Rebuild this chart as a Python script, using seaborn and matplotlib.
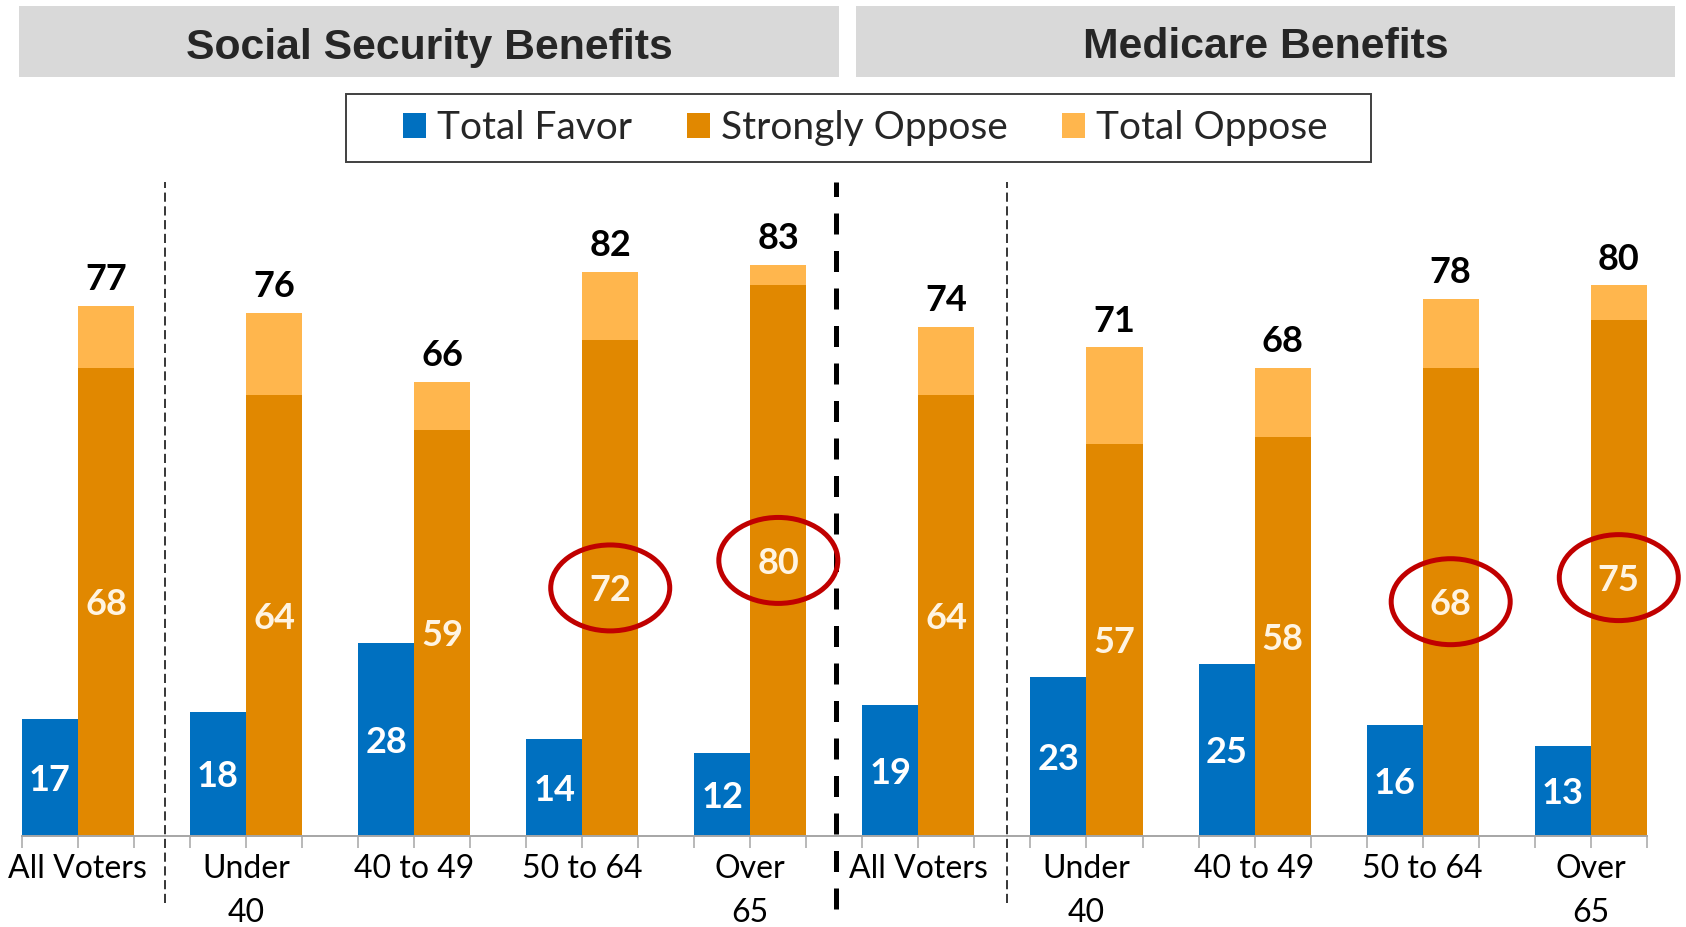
import matplotlib
matplotlib.use("Agg")
import matplotlib.pyplot as plt
from matplotlib.patches import Rectangle, Ellipse, Patch
import pandas as pd
import seaborn as sns

# ---- data -------------------------------------------------------------
panels = ["Social Security Benefits", "Medicare Benefits"]
age_groups = ["All Voters", "Under\n40", "40 to 49", "50 to 64", "Over\n65"]

ss_total_favor = [17, 18, 28, 14, 12]
ss_strongly_oppose = [68, 64, 59, 72, 80]
ss_total_oppose = [77, 76, 66, 82, 83]

med_total_favor = [19, 23, 25, 16, 13]
med_strongly_oppose = [64, 57, 58, 68, 75]
med_total_oppose = [74, 71, 68, 78, 80]

# age groups whose "strongly oppose" figure gets circled
highlighted_groups = ["50 to 64", "Over\n65"]

series_names = ["Total Favor", "Strongly Oppose", "Total Oppose"]
colors = {"Total Favor": "#0070C0",
          "Strongly Oppose": "#E18800",
          "Total Oppose": "#FFB64D"}

# ---- tidy tables ------------------------------------------------------
keys = [f"{p} | {g}" for p in panels for g in age_groups]
favor = ss_total_favor + med_total_favor
strong = ss_strongly_oppose + med_strongly_oppose
total_opp = ss_total_oppose + med_total_oppose

# back layer: favor + total oppose; front layer: favor + strongly oppose
back = pd.DataFrame({
    "group": keys * 2,
    "series": ["Total Favor"] * len(keys) + ["Oppose"] * len(keys),
    "value": favor + total_opp,
})
front = pd.DataFrame({
    "group": keys * 2,
    "series": ["Total Favor"] * len(keys) + ["Oppose"] * len(keys),
    "value": favor + strong,
})

# ---- style ------------------------------------------------------------
sns.set_theme(style="white")
plt.rcParams["font.family"] = ["Lato", "DejaVu Sans"]

W, H = 1686, 927
fig = plt.figure(figsize=(W / 100, H / 100), dpi=100)

# plot area: baseline at y=835.5px, 95 value units tall
ax_left, ax_right = 21.9, 1646.8
base_px, top_px = 835.5, 182.2
ax = fig.add_axes([ax_left / W, 1 - base_px / H,
                   (ax_right - ax_left) / W, (base_px - top_px) / H])

bar_kw = dict(x="group", y="value", hue="series",
              hue_order=["Total Favor", "Oppose"],
              order=keys, width=2 / 3, gap=0, saturation=1,
              errorbar=None, legend=False, linewidth=0, ax=ax)

# light "total oppose" bars sit behind the "strongly oppose" bars
sns.barplot(data=back, palette={"Total Favor": colors["Total Favor"],
                                "Oppose": colors["Total Oppose"]},
            **bar_kw)
sns.barplot(data=front, palette={"Total Favor": colors["Total Favor"],
                                 "Oppose": colors["Strongly Oppose"]},
            **bar_kw)

n = len(keys)
ax.set_xlim(-1 / 3, n - 1 + 1 / 3)
ax.set_ylim(0, 95)

# value labels
cont_total, cont_favor, cont_strong = ax.containers[1], ax.containers[2], ax.containers[3]
ax.bar_label(cont_total, labels=[str(v) for v in total_opp], padding=7,
             fontsize=26, fontweight="bold", color="black")
favor_txt = ax.bar_label(cont_favor, labels=[str(v) for v in favor], label_type="center",
                         fontsize=26, fontweight="bold", color="white")
strong_txt = ax.bar_label(cont_strong, labels=[str(v) for v in strong], label_type="center",
                          fontsize=26, fontweight="bold", color="#FFF4E2")
for t in favor_txt + strong_txt:
    t.set_va("center_baseline")

# highlight circles around selected "strongly oppose" values
for p_idx in range(len(panels)):
    for g in highlighted_groups:
        i = p_idx * len(age_groups) + age_groups.index(g)
        ax.add_patch(Ellipse((i + 1 / 6, strong[i] / 2), width=0.708, height=12.5,
                             fill=False, edgecolor="#C00000", linewidth=3.6,
                             clip_on=False, zorder=5))

# axis styling
ax.set_xticks(range(n))
ax.set_xticklabels(age_groups * 2)
ax.set_xticks([i + d for i in range(n) for d in (-1 / 3, 1 / 3)], minor=True)
ax.tick_params(axis="x", which="both", length=8.6, width=1.1,
               color="#A6A6A6", direction="out", bottom=True)
ax.tick_params(axis="x", which="major", labelsize=23, pad=5, labelcolor="black")
for t in ax.get_xticklabels():
    t.set_linespacing(1.55)
ax.set_yticks([])
ax.set_xlabel("")
ax.set_ylabel("")
for side in ("left", "right", "top"):
    ax.spines[side].set_visible(False)
ax.spines["bottom"].set_color("#A6A6A6")
ax.spines["bottom"].set_linewidth(1.4)

# separators: between "All Voters" and the age breakdown, and between panels
lo = -(903 - base_px) / ((base_px - top_px) / 95)
for x in (0.52, 5.53):
    ax.plot([x, x], [lo, 95], color="black", linewidth=1.1,
            dashes=(6.0, 3.0), clip_on=False, zorder=4)
ax.plot([4.508, 4.508], [lo - 0.9, 95], color="black", linewidth=3.6,
        dashes=(4.2, 3.3), clip_on=False, zorder=4)

# panel headers
header_boxes = [(19, 839), (856, 1675)]
for title, (x0, x1) in zip(panels, header_boxes):
    fig.add_artist(Rectangle((x0 / W, 1 - 77 / H), (x1 - x0) / W, 70.5 / H,
                             transform=fig.transFigure, facecolor="#D9D9D9",
                             edgecolor="none"))
    fig.text((x0 + x1) / 2 / W, 1 - 43 / H, title, ha="center",
             va="center_baseline", fontsize=30.8, fontweight="bold",
             family=["Liberation Sans", "DejaVu Sans"])

# legend: entries without frame, box drawn around them
fig.add_artist(Rectangle((346 / W, 1 - 162 / H), 1025 / W, 68 / H,
                         transform=fig.transFigure, facecolor="white",
                         edgecolor="#404040", linewidth=1.4))
handles = [Patch(facecolor=colors[s], edgecolor="none") for s in series_names]
leg = fig.legend(handles, series_names, ncol=3, loc="center",
                 bbox_to_anchor=(865.6 / W, 1 - 128 / H),
                 fontsize=28, frameon=False,
                 handlelength=0.59, handleheight=0.59, handletextpad=0.28,
                 columnspacing=1.41, borderpad=0.2)

fig.savefig("out.png", dpi=100)
